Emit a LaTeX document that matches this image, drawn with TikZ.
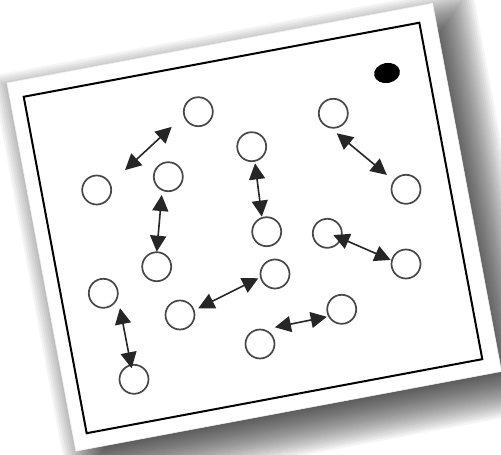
\documentclass[tikz,border=0pt]{standalone}
\usetikzlibrary{arrows.meta}
\begin{document}
\begin{tikzpicture}[x=1pt,y=-1pt,
  ring/.style={circle,draw=black!72,line width=1.7pt,minimum size=29pt,inner sep=0pt,outer sep=0pt},
  link/.style={draw=black!85,line width=1.6pt,arrows={Triangle[length=16pt,width=16pt]-Triangle[length=16pt,width=16pt]}},
  sheet/.style={shift={(7,83)},rotate=10.6}]
\useasboundingbox (0,0) rectangle (501,455);
\fill[white] (0,0) rectangle (501,455);
\begin{scope}[sheet]
  \foreach \r in {-28,-26,...,28}
    \fill[black,fill opacity=0.04] (14-\r,18-\r) rectangle (447+\r,392.5+\r);
  \fill[white,draw=black!6,line width=0.6pt] (0,0) rectangle (433,374.5);
  \draw[black,line width=2pt] (13.9,16.6) rectangle (416.4,358.9);
\end{scope}
\fill[black,rotate around={10.6:(387,73)}] (387,73) ellipse [x radius=13pt,y radius=10pt];
\node[ring] (c1) at (198.3,111.7) {};
\node[ring] (c2) at (96.7,190) {};
\node[ring] (c3) at (168.3,176.7) {};
\node[ring] (c4) at (156.7,266.7) {};
\node[ring] (c5) at (251.7,146.7) {};
\node[ring] (c6) at (266.7,231.7) {};
\node[ring] (c7) at (333.3,113.3) {};
\node[ring] (c8) at (406,189.3) {};
\node[ring] (c9) at (327.3,233.3) {};
\node[ring] (c10) at (406,264) {};
\node[ring] (c11) at (103.3,293.3) {};
\node[ring] (c12) at (134,379.3) {};
\node[ring] (c13) at (180,315) {};
\node[ring] (c14) at (275,274) {};
\node[ring] (c15) at (260,344) {};
\node[ring] (c16) at (341.7,309.3) {};
\draw[link,shorten <=20.6pt,shorten >=17.1pt] (c2.24) -- (c1.-166);
\draw[link,shorten <=5.2pt,shorten >=0.5pt] (c3.-115) -- (c4.90);
\draw[link,shorten <=2.5pt,shorten >=1.4pt] (c5.-78) -- (c6.109);
\draw[link,shorten <=9.4pt,shorten >=9.5pt] (c7.-105) -- (c8.145);
\draw[link,shorten <=20.7pt,shorten >=1.4pt] (c9.153) -- (c10.166);
\draw[link,shorten <=12.6pt,shorten >=25.8pt] (c11.-10) -- (c12.-80);
\draw[link,shorten <=5pt,shorten >=2.8pt] (c13.18) -- (c14.-168);
\draw[link,shorten <=12.4pt,shorten >=2.3pt] (c15.79) -- (c16.-151.5);
\end{tikzpicture}
\end{document}
